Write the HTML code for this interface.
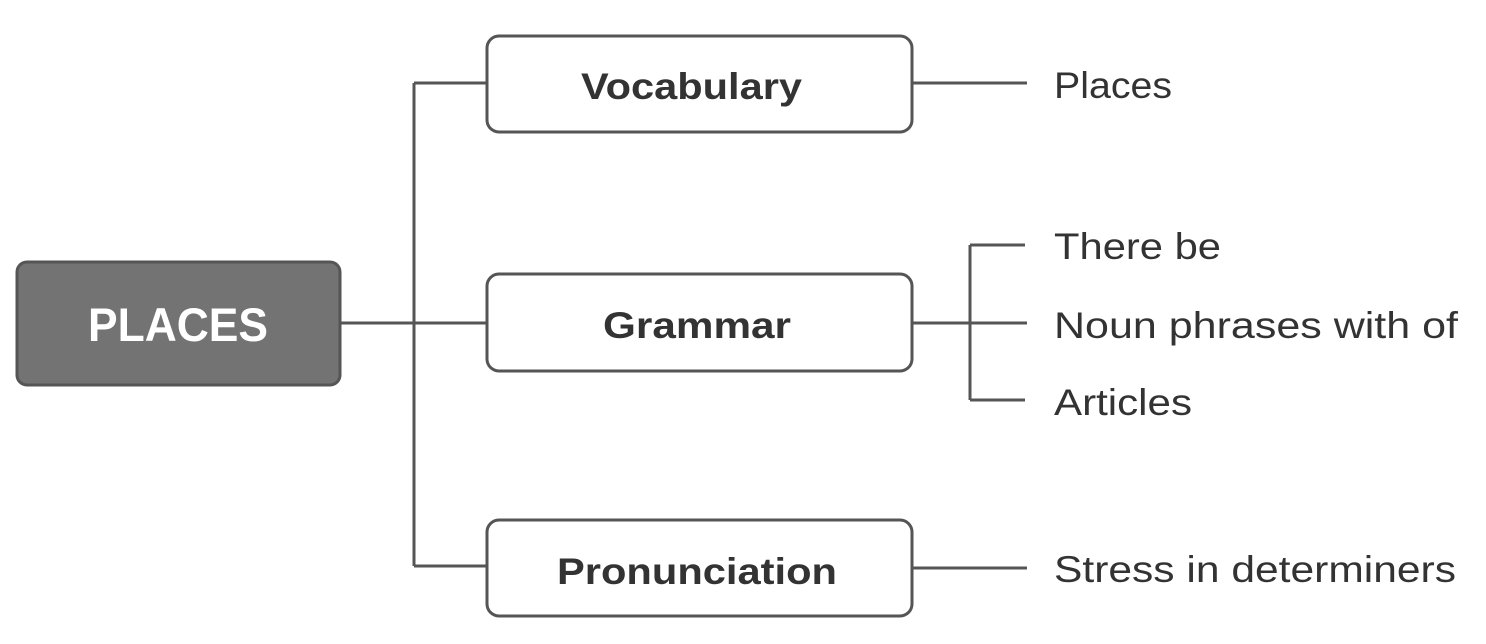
<!DOCTYPE html>
<html><head><style>
body{margin:0;background:#fff;}
svg text{font-family:"Liberation Sans",sans-serif;}
</style></head><body>
<svg width="1486" height="639" xmlns="http://www.w3.org/2000/svg">
<g stroke="#555" stroke-width="3" fill="none">
<path d="M340 323 H487 M414 83 V566 M414 83 H487 M414 566 H487"/>
<path d="M912 83 H1027 M912 568 H1027 M912 323 H1027 M970 245 V400 M970 245 H1025 M970 400 H1025"/>
<rect x="487" y="36" width="425" height="96" rx="12" fill="#fff"/>
<rect x="487" y="274" width="425" height="97" rx="12" fill="#fff"/>
<rect x="487" y="520" width="425" height="96" rx="12" fill="#fff"/>
<rect x="17" y="262" width="323" height="123" rx="10" fill="#737373"/>
</g>
<text x="88" y="341" font-size="47" font-weight="bold" fill="#fff" textLength="180" lengthAdjust="spacingAndGlyphs">PLACES</text>
<g font-size="37" font-weight="bold" fill="#333" lengthAdjust="spacingAndGlyphs">
<text x="581" y="99" textLength="221" lengthAdjust="spacingAndGlyphs">Vocabulary</text>
<text x="603" y="338" textLength="188" lengthAdjust="spacingAndGlyphs">Grammar</text>
<text x="557" y="584" textLength="280" lengthAdjust="spacingAndGlyphs">Pronunciation</text>
</g>
<g font-size="37" fill="#333">
<text x="1054" y="98" textLength="118" lengthAdjust="spacingAndGlyphs">Places</text>
<text x="1054" y="259" textLength="167" lengthAdjust="spacingAndGlyphs">There be</text>
<text x="1054" y="338" textLength="404" lengthAdjust="spacingAndGlyphs">Noun phrases with of</text>
<text x="1054" y="415" textLength="138" lengthAdjust="spacingAndGlyphs">Articles</text>
<text x="1054" y="582" textLength="402" lengthAdjust="spacingAndGlyphs">Stress in determiners</text>
</g>
</svg>
</body></html>
